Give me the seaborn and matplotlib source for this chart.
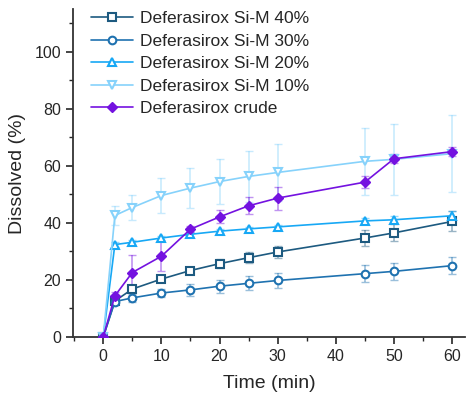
import numpy as np
import pandas as pd
import matplotlib
matplotlib.use("Agg")
import matplotlib.pyplot as plt
from matplotlib.lines import Line2D
import seaborn as sns

time = [0, 2, 5, 10, 15, 20, 25, 30, 45, 50, 60]
series_names = ["Deferasirox Si-M 40%", "Deferasirox Si-M 30%", "Deferasirox Si-M 20%",
                "Deferasirox Si-M 10%", "Deferasirox crude"]
si40 = [0, 12.6, 16.8, 20.3, 23.3, 25.7, 27.8, 29.8, 34.7, 36.5, 40.5]
si40_err = [0, 0.6, 1.0, 1.0, 1.2, 1.5, 2.0, 2.0, 2.8, 3.0, 3.5]
si30 = [0, 12.4, 13.7, 15.4, 16.5, 17.8, 18.8, 19.8, 22.2, 23.0, 25.0]
si30_err = [0, 1.0, 1.5, 1.5, 2.0, 2.3, 2.5, 2.5, 2.9, 3.0, 2.9]
si20 = [0, 32.4, 33.2, 34.7, 36.0, 37.1, 37.9, 38.6, 40.7, 41.1, 42.5]
si20_err = [0, 0.8, 0.8, 0.8, 0.8, 0.8, 0.8, 0.8, 1.0, 1.2, 1.5]
si10 = [0, 42.6, 45.4, 49.6, 52.2, 54.5, 56.3, 57.7, 61.6, 62.3, 64.3]
si10_err = [0, 3.5, 4.5, 6.0, 7.0, 7.9, 9.0, 10.0, 11.7, 12.4, 13.5]
crude = [0, 14.4, 22.6, 28.3, 37.8, 42.1, 46.0, 48.7, 54.3, 62.5, 65.0]
crude_err = [0, 1.5, 6.0, 5.3, 1.0, 2.3, 3.0, 4.0, 2.0, 1.5, 1.5]

values = [si40, si30, si20, si10, crude]
errors = [si40_err, si30_err, si20_err, si10_err, crude_err]
colors = ["#1d5a80", "#1f72b0", "#17a8f5", "#86d2fb", "#7412e0"]
markers = ["s", "o", "^", "v", "D"]
xticks = [0, 10, 20, 30, 40, 50, 60]
yticks = [0, 20, 40, 60, 80, 100]

rows = []
for name, vals in zip(series_names, values):
    for t, v in zip(time, vals):
        rows.append({"Time": t, "Dissolved": v, "Series": name})
df = pd.DataFrame(rows)

sns.set_style("ticks")
plt.rcParams["font.family"] = ["Liberation Sans", "DejaVu Sans"]

fig = plt.figure(figsize=(4.71, 3.95), dpi=100)
ax = fig.add_axes([0.155, 0.147, 0.832, 0.83])

for name, vals, errs, c in zip(series_names, values, errors, colors):
    ax.errorbar(time, vals, yerr=errs, fmt="none", ecolor=c, alpha=0.45,
                elinewidth=1.2, capsize=3, capthick=1.0, zorder=1)

n_before = len(ax.lines)
sns.lineplot(data=df, x="Time", y="Dissolved", hue="Series", style="Series",
             hue_order=series_names, style_order=series_names, palette=colors,
             markers=markers, dashes=False, linewidth=1.2, markersize=6, ax=ax,
             zorder=3, legend=False)
new_lines = ax.lines[n_before:]

def style_marker(line, i):
    c = colors[i]
    line.set_color(c)
    if i < 4:
        line.set_markerfacecolor("white")
        line.set_markeredgecolor(c)
        line.set_markeredgewidth(1.5)
        line.set_markersize(5.5)
    else:
        line.set_markerfacecolor(c)
        line.set_markeredgecolor(c)
        line.set_markeredgewidth(1.0)
        line.set_markersize(5.5)

for i, line in enumerate(new_lines[:5]):
    style_marker(line, i)

ax.set_xlim(-5.2, 62.2)
ax.set_ylim(0, 115)
ax.set_xticks(xticks)
ax.set_yticks(yticks)
ax.set_xticks(np.arange(-5, 61, 5), minor=True)
ax.set_yticks(np.arange(10, 111, 10), minor=True)
ax.tick_params(axis="both", which="major", length=5, width=1.2, labelsize=11.5, direction="out")
ax.tick_params(axis="both", which="minor", length=3, width=1.0, direction="out")
for s in ["left", "bottom"]:
    ax.spines[s].set_linewidth(1.3)
    ax.spines[s].set_color("#333333")
sns.despine(ax=ax)
ax.set_xlabel("Time (min)", fontsize=14, labelpad=8)
ax.set_ylabel("Dissolved (%)", fontsize=14, labelpad=6)

handles = []
for i, name in enumerate(series_names):
    h = Line2D([], [], marker=markers[i], linewidth=1.2, label=name)
    style_marker(h, i)
    handles.append(h)
ax.legend(handles=handles, loc="upper left",
          bbox_to_anchor=(0.02, 1.025), frameon=False, fontsize=12.5,
          handlelength=2.4, handletextpad=0.4, labelspacing=0.42, borderaxespad=0.2)

fig.savefig("out.png", dpi=100)
